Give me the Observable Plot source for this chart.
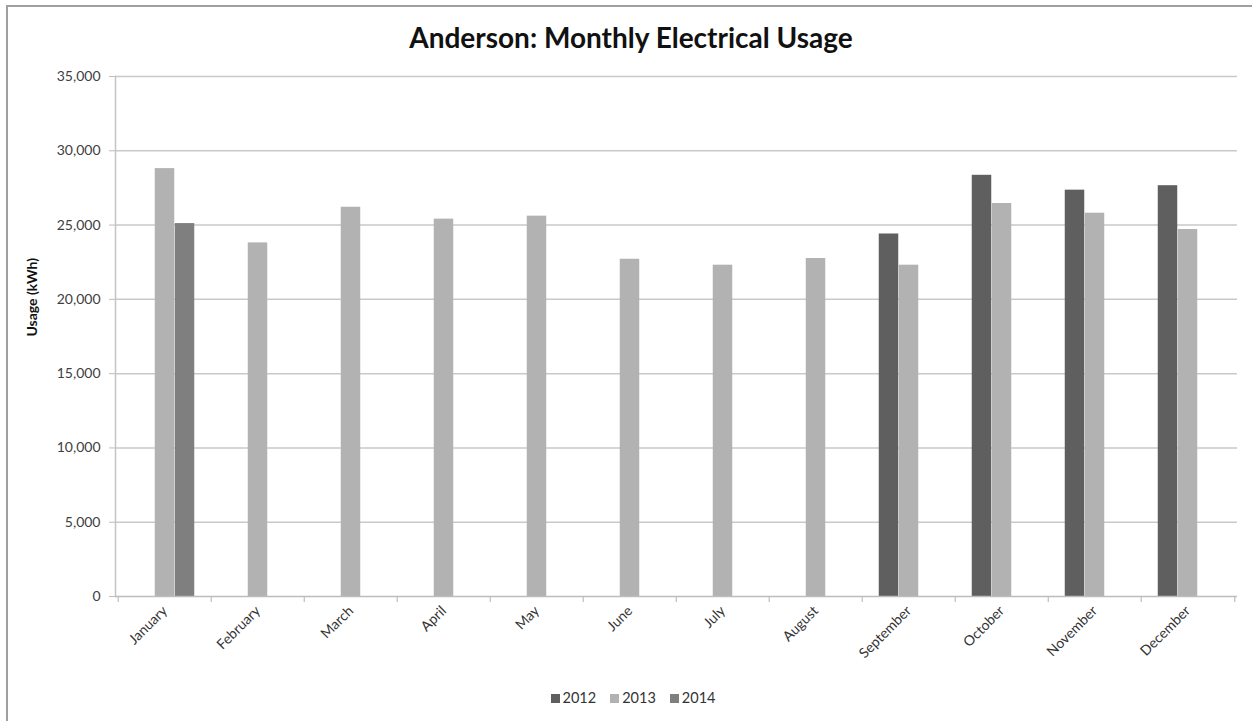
<!DOCTYPE html>
<html><head><meta charset="utf-8">
<script src="https://cdn.jsdelivr.net/npm/d3@7"></script>
<script src="https://cdn.jsdelivr.net/npm/@observablehq/plot@0.6"></script>
<style>
body{margin:0;background:#fff;font-family:Lato,"Open Sans",sans-serif;}
#wrap{position:relative;width:1252px;height:721px;overflow:hidden;background:#fff}
#frame{position:absolute;left:6px;top:5px;width:1400px;height:800px;border:2px solid #a0a0a0;box-sizing:border-box}
#title{position:absolute;left:0;width:1262px;top:20px;text-align:center;font-weight:bold;font-size:28px;color:#111}
#chart{position:absolute;left:0;top:0}
#legend{position:absolute;left:0;width:1266px;top:689px;text-align:center;font-size:14.5px;color:#333}
#legend span.item{margin:0 7px;white-space:nowrap}
#legend span.sw{display:inline-block;width:9px;height:9px;margin-right:3px;vertical-align:0px}
</style></head>
<body>
<div id="wrap">
<div id="frame"></div>
<div id="chart"></div>
<div id="title"></div>
<div id="legend"></div>
</div>
<script>
const titleText = "Anderson: Monthly Electrical Usage";
const yLabel = "Usage (kWh)";
const months = ["January","February","March","April","May","June","July","August","September","October","November","December"];
const years = ["2012","2013","2014"];
const colors = ["#5f5f5f","#b2b2b2","#7f7f7f"];
const v2012 = [null,null,null,null,null,null,null,null,24400,28350,27350,27650];
const v2013 = [28800,23800,26200,25400,25600,22700,22300,22750,22300,26450,25800,24700];
const v2014 = [25100,null,null,null,null,null,null,null,null,null,null,null];
const yTicks = [0,5000,10000,15000,20000,25000,30000,35000];

const series = [v2012, v2013, v2014];
const tables = series.map((vals, i) => months.map((m, j) => ({month: m, year: years[i], value: vals[j]})).filter(d => d.value != null));

document.getElementById("title").textContent = titleText;
const leg = document.getElementById("legend");
years.forEach((y, i) => {
  const it = document.createElement("span"); it.className = "item";
  const sw = document.createElement("span"); sw.className = "sw"; sw.style.background = colors[i];
  it.appendChild(sw); it.appendChild(document.createTextNode(y));
  leg.appendChild(it);
});

const W = 1252, H = 721, mL = 115, mR = 15, mT = 76, mB = 125;
const step = (W - mL - mR) / months.length;
const barW = 20;
const inset = (step - barW) / 2;
const innerH = H - mT - mB;

const chart = Plot.plot({
  width: W, height: H,
  marginLeft: mL, marginRight: mR, marginTop: mT, marginBottom: mB,
  style: {fontFamily: "Lato, 'Open Sans', sans-serif", fontSize: "14px", background: "transparent", color: "#333"},
  x: {domain: months, padding: 0, label: null},
  y: {domain: [0, 35000], label: null},
  marks: [
    Plot.gridY(yTicks.filter(d => d > 0), {stroke: "#c9c9c9", strokeOpacity: 1, strokeWidth: 1.5}),
    ...tables.map((t, i) => Plot.barY(t, {
      x: "month", y: "value", fill: colors[i],
      dx: (i - 1) * barW, insetLeft: inset, insetRight: inset
    })),
    Plot.ruleY([0], {stroke: "#bdbdbd", strokeWidth: 1.5}),
    Plot.frame({anchor: "left", stroke: "#c4c4c4", strokeWidth: 1.5}),
    Plot.ruleX(months, {x: d => d, dx: -step / 2, insetTop: innerH, insetBottom: -6, stroke: "#bdbdbd", strokeWidth: 1.2}),
    Plot.ruleX([months[months.length - 1]], {x: d => d, dx: step / 2, insetTop: innerH, insetBottom: -6, stroke: "#bdbdbd", strokeWidth: 1.2}),
    Plot.axisY({ticks: yTicks, tickFormat: d3.format(","), tickSize: 6, tickPadding: 9, stroke: "#bdbdbd", fill: "#404040", fontSize: 14, label: null}),
    Plot.axisX({tickRotate: -45, tickSize: 0, tickPadding: 12, fill: "#333", fontSize: 14, label: null}),
    Plot.text([yLabel], {frameAnchor: "left", dx: -83, rotate: -90, fontWeight: "bold", fontSize: 14, fill: "#111"})
  ]
});
document.getElementById("chart").appendChild(chart);
</script>
</body></html>
